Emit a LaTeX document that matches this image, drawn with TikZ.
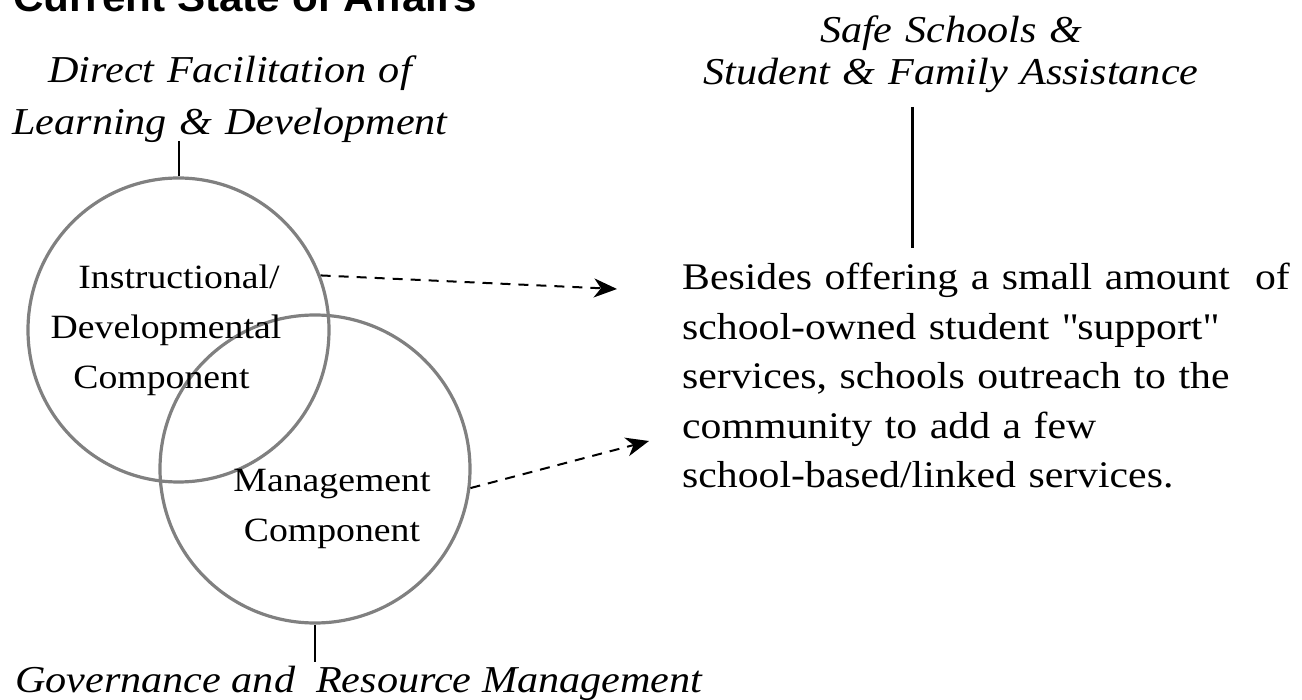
\documentclass[tikz,border=0pt]{standalone}
\usepackage{fontspec}
\setmainfont{Liberation Serif}[FakeStretch=1.11]
\newfontfamily\headfont{Liberation Sans}[FakeStretch=1.06]
\usetikzlibrary{positioning}
\usetikzlibrary{arrows.meta}
\usetikzlibrary{shapes.geometric,calc}
\definecolor{ringgray}{RGB}{128,128,128}
\tikzset{
  ring/.style={draw=ringgray, line width=3.2pt, ellipse, inner sep=0pt},
  comptext/.style={font=\fontsize{34}{50}\selectfont, text width=300pt, align=center, anchor=base, inner sep=0pt},
  areatext/.style={font=\fontsize{38}{52}\selectfont\itshape, inner sep=0pt},
  tick/.style={line width=2pt},
  dasharrow/.style={line width=2pt, dash pattern=on 10pt off 8pt, -{Stealth[length=23pt,width=19pt,inset=7pt]}}
}

\begin{document}
\begin{tikzpicture}[x=1pt,y=-1pt]
\useasboundingbox (0,0) rectangle (1302,700);
\node[anchor=base west, inner sep=0pt, font=\headfont\fontsize{39.8}{40}\selectfont\bfseries] (title) at (13,12) {Current State of Affairs};
% the two components
\node[ring, minimum width=301pt, minimum height=304pt] (inst) at (178.5,330) {};
\node[ring, minimum width=310pt, minimum height=308pt] (mgmt) at (315,469) {};
\node[comptext] (instTxt) at (166,289) {\hspace*{26pt}Instructional/\\Developmental\\\hspace*{-9pt}Component};
\node[comptext] (mgmtTxt) at (332,492) {Management\\Component};
% labels
\node[areatext, text width=500pt, align=center, anchor=base] (dfl) at (230,83) {Direct Facilitation of\\Learning \& Development};
\node[areatext, font=\fontsize{38}{42}\selectfont\itshape, text width=560pt, align=center, anchor=base] (ssfa) at (951,43) {Safe Schools \&\\Student \& Family Assistance};
\node[areatext, anchor=base west] (gov) at (15,692) {Governance and\ \ Resource Management};
\node[font=\fontsize{37.6}{49.5}\selectfont, text width=640pt, align=left, anchor=base west, inner sep=0pt] (para) at (682,290)
  {Besides offering a small amount\ \ of\\school-owned student \textquotedbl support\textquotedbl\\services, schools outreach to the\\community to add a few\\school-based/linked services.};
\draw[tick] (inst.north) -- ++(0,-35);
\draw[tick] (mgmt.south) -- ++(0,37);
\coordinate (ssTop) at (912,107);
\coordinate (ssBot) at (912,248);
\draw[tick, line width=3pt] (ssTop) -- (ssBot);
% arrows
\coordinate (tipA) at (617,289);
\coordinate (tipB) at (649,441);
\draw[dasharrow] (inst.21) -- (tipA);
\draw[dasharrow] (mgmt.-7) -- (tipB);
\end{tikzpicture}
\end{document}
